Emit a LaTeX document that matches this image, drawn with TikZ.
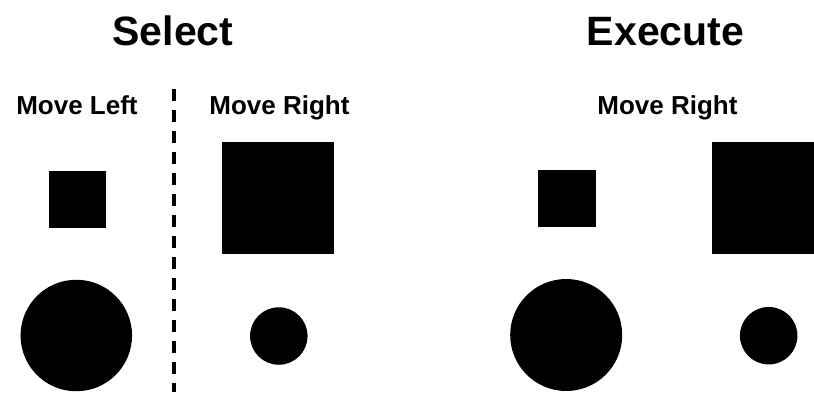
\documentclass[tikz,border=0pt]{standalone}
\usepackage{fontspec}
\setmainfont{Liberation Sans}
\begin{document}
\begin{tikzpicture}[x=1pt,y=-1pt,
  title/.style={font=\fontsize{41}{41}\selectfont\bfseries, anchor=base, inner sep=0},
  sub/.style={font=\fontsize{26}{26}\selectfont\bfseries, anchor=base, inner sep=0},
  sq/.style={fill=black, inner sep=0, outer sep=0, minimum width=#1, minimum height=#1, rectangle},
  dot/.style={fill=black, inner sep=0, outer sep=0, minimum size=#1, circle},
  divider/.style={line width=3.4pt, dash pattern=on 11.5pt off 9.5pt}]
\useasboundingbox (0,0) rectangle (814,392);
\node[title] (sel) at (173,45.5) {Select};
\node[title] (exe) at (665.5,45.5) {Execute};
\node[sub] (ml) at (77,114) {Move Left};
\node[sub] (mr1) at (279.5,114) {Move Right};
\node[sub] (mr2) at (667.5,114) {Move Right};
\coordinate (dtop) at (174,89.3);
\coordinate (dbot) at (174,392);
\draw[divider] (dtop) -- (dbot);
% Select, Move Left
\node[sq=57] (s1) at (77.5,199) {};
\node[dot=111.5] (c1) at (76.3,335.5) {};
% Select, Move Right
\node[sq=112] (s2) at (278,198) {};
\node[dot=57.5] (c2) at (278.8,336) {};
% Execute
\node[sq=57.5] (s3) at (567,198.5) {};
\node[dot=112] (c3) at (566.2,335) {};
\node[sq=112] (s4) at (768.3,198) {};
\node[dot=57.5] (c4) at (768.7,335.7) {};
\end{tikzpicture}
\end{document}
